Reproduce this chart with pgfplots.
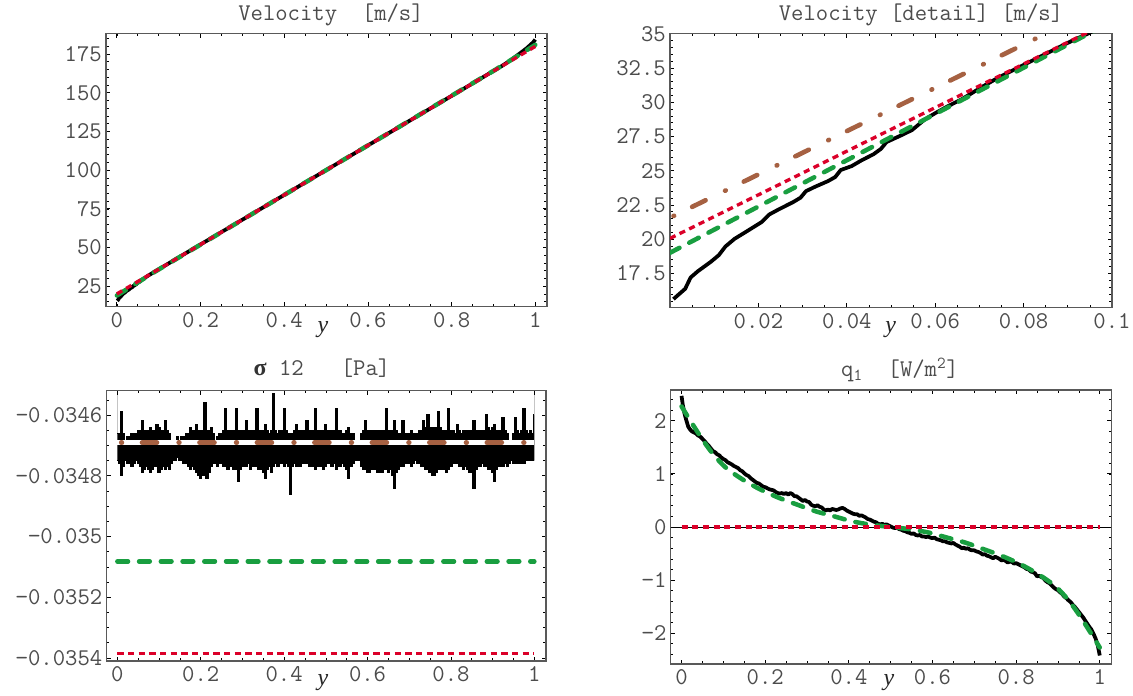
\documentclass[border=0pt]{standalone}
\usepackage{pgfplots}
\usepackage{pgfplotstable}
\pgfplotsset{compat=1.18}
\usepackage{fontspec}
\newfontfamily\serifit{Liberation Serif}
\definecolor{mgreen}{rgb}{0.10,0.62,0.25}
\definecolor{mred}{rgb}{0.86,0.0,0.16}
\definecolor{mbrown}{rgb}{0.65,0.38,0.26}
\definecolor{tickgray}{rgb}{0.30,0.30,0.30}
\definecolor{framegray}{rgb}{0.35,0.35,0.35}
\pgfplotsset{
  mma/.style={
    scale only axis, anchor=south west,
    axis line style={framegray, line width=0.8pt},
    tick align=inside, tick pos=both,
    major tick length=3.2pt, minor tick length=1.9pt,
    tick style={black, line width=0.6pt},
    minor tick style={black, line width=0.5pt},
    tick label style={font=\ttfamily\fontsize{18}{20}\selectfont, text=tickgray},
    xticklabel style={anchor=base, yshift=-15.5pt},
    yticklabel style={anchor=east, inner xsep=3pt},
    clip=true,
  },
  blk/.style={black, line width=2.8pt, line join=round},
  grn/.style={mgreen, line width=3.4pt, line cap=round, dash pattern=on 8pt off 8.3pt},
  rd/.style={mred, line width=2.5pt, dash pattern=on 4.6pt off 3.4pt},
  brn/.style={mbrown, line width=3.5pt, line cap=round, dash pattern=on 11.2pt off 16.3pt on 0.5pt off 15.1pt, dash phase=24.6pt},
}
\pgfplotstableread{
x y
0.00078 15.63
0.00343 16.38
0.00467 17.21
0.00633 17.67
0.00923 18.35
0.01105 18.84
0.01254 19.47
0.01461 20.03
0.01734 20.57
0.02082 21.27
0.02248 21.81
0.02455 22.17
0.02786 22.71
0.02952 23.03
0.03076 23.51
0.03283 23.83
0.03573 24.24
0.03738 24.54
0.03862 25.05
0.04111 25.34
0.04318 25.73
0.04608 26.21
0.04774 26.60
0.04898 27.09
0.05229 27.58
0.05477 27.97
0.05767 28.75
0.06016 29.23
0.06264 29.67
0.06596 30.21
0.07093 31.18
0.07424 31.79
0.08252 33.13
0.09080 34.46
0.09452 35.00
0.1 35.9
0.15 44.0
0.2 52.0
0.3 68.0
0.4 84.0
0.5 100.0
0.6 116.0
0.7 132.0
0.8 148.0
0.85 156.0
0.9 164.1
0.92 167.3
0.94 170.8
0.96 174.8
0.98 178.9
0.99 181.4
0.995 182.6
1.0 184.4
}\velblack
\pgfplotstableread{
x y
0 19.01
0.0947 35.0
0.2 51.9
0.3 67.95
0.4 84.0
0.5 100.0
0.6 116.0
0.7 132.05
0.8 148.1
0.9053 165.0
1.0 180.99
}\velgreen
\pgfplotstableread{
x y
0 20.06
0.0939 35.0
0.5 100.0
0.9061 165.0
1.0 179.94
}\velred
\pgfplotstableread{
x y
0 21.57
0.085 35.0
0.5 100.0
0.915 165.0
1.0 178.43
}\velbrown
\pgfplotstableread{
x a b
0.000 -0.03466 -0.03475
0.005 -0.03466 -0.03476
0.010 -0.03459 -0.03480
0.015 -0.03466 -0.03477
0.020 -0.03469 -0.03475
0.025 -0.03467 -0.03476
0.030 -0.03467 -0.03476
0.035 -0.03466 -0.03477
0.040 -0.03466 -0.03476
0.045 -0.03466 -0.03475
0.050 -0.03465 -0.03476
0.055 -0.03465 -0.03477
0.060 -0.03462 -0.03479
0.065 -0.03465 -0.03478
0.070 -0.03465 -0.03477
0.075 -0.03465 -0.03478
0.080 -0.03464 -0.03479
0.085 -0.03465 -0.03478
0.090 -0.03465 -0.03477
0.095 -0.03463 -0.03477
0.100 -0.03464 -0.03479
0.105 -0.03465 -0.03478
0.110 -0.03465 -0.03477
0.115 -0.03462 -0.03478
0.120 -0.03465 -0.03477
0.125 -0.03466 -0.03478
0.130 -0.03469 -0.03476
0.135 -0.03469 -0.03475
0.140 -0.03469 -0.03475
0.145 -0.03467 -0.03474
0.150 -0.03469 -0.03475
0.155 -0.03467 -0.03475
0.160 -0.03467 -0.03476
0.165 -0.03466 -0.03476
0.170 -0.03466 -0.03477
0.175 -0.03464 -0.03478
0.180 -0.03465 -0.03477
0.185 -0.03465 -0.03478
0.190 -0.03463 -0.03479
0.195 -0.03465 -0.03480
0.200 -0.03465 -0.03481
0.205 -0.03465 -0.03480
0.210 -0.03456 -0.03480
0.215 -0.03465 -0.03481
0.220 -0.03465 -0.03479
0.225 -0.03464 -0.03477
0.230 -0.03466 -0.03476
0.235 -0.03469 -0.03476
0.240 -0.03467 -0.03477
0.245 -0.03466 -0.03476
0.250 -0.03466 -0.03476
0.255 -0.03465 -0.03477
0.260 -0.03458 -0.03477
0.265 -0.03465 -0.03478
0.270 -0.03465 -0.03477
0.275 -0.03465 -0.03477
0.280 -0.03465 -0.03478
0.285 -0.03458 -0.03478
0.290 -0.03465 -0.03482
0.295 -0.03465 -0.03478
0.300 -0.03465 -0.03477
0.305 -0.03465 -0.03477
0.310 -0.03462 -0.03477
0.315 -0.03465 -0.03476
0.320 -0.03465 -0.03478
0.325 -0.03465 -0.03477
0.330 -0.03465 -0.03477
0.335 -0.03458 -0.03477
0.340 -0.03465 -0.03478
0.345 -0.03465 -0.03478
0.350 -0.03465 -0.03479
0.355 -0.03463 -0.03481
0.360 -0.03465 -0.03478
0.365 -0.03466 -0.03477
0.370 -0.03465 -0.03479
0.375 -0.03453 -0.03477
0.380 -0.03465 -0.03476
0.385 -0.03466 -0.03477
0.390 -0.03465 -0.03476
0.395 -0.03465 -0.03476
0.400 -0.03458 -0.03477
0.405 -0.03465 -0.03476
0.410 -0.03466 -0.03477
0.415 -0.03466 -0.03486
0.420 -0.03466 -0.03477
0.425 -0.03465 -0.03476
0.430 -0.03463 -0.03477
0.435 -0.03465 -0.03477
0.440 -0.03465 -0.03477
0.445 -0.03465 -0.03476
0.450 -0.03465 -0.03476
0.455 -0.03462 -0.03476
0.460 -0.03465 -0.03477
0.465 -0.03465 -0.03477
0.470 -0.03465 -0.03477
0.475 -0.03458 -0.03478
0.480 -0.03465 -0.03477
0.485 -0.03465 -0.03477
0.490 -0.03465 -0.03477
0.495 -0.03465 -0.03478
0.500 -0.03463 -0.03477
0.505 -0.03465 -0.03476
0.510 -0.03466 -0.03476
0.515 -0.03465 -0.03477
0.520 -0.03465 -0.03476
0.525 -0.03458 -0.03478
0.530 -0.03465 -0.03477
0.535 -0.03465 -0.03477
0.540 -0.03466 -0.03476
0.545 -0.03466 -0.03477
0.550 -0.03465 -0.03478
0.555 -0.03464 -0.03481
0.560 -0.03466 -0.03477
0.565 -0.03466 -0.03476
0.570 -0.03469 -0.03475
0.575 -0.03469 -0.03475
0.580 -0.03469 -0.03475
0.585 -0.03466 -0.03477
0.590 -0.03465 -0.03478
0.595 -0.03462 -0.03478
0.600 -0.03465 -0.03479
0.605 -0.03465 -0.03479
0.610 -0.03465 -0.03478
0.615 -0.03465 -0.03478
0.620 -0.03465 -0.03478
0.625 -0.03465 -0.03479
0.630 -0.03465 -0.03478
0.635 -0.03465 -0.03479
0.640 -0.03465 -0.03478
0.645 -0.03458 -0.03478
0.650 -0.03465 -0.03479
0.655 -0.03465 -0.03478
0.660 -0.03465 -0.03480
0.665 -0.03462 -0.03484
0.670 -0.03465 -0.03479
0.675 -0.03466 -0.03478
0.680 -0.03466 -0.03477
0.685 -0.03462 -0.03477
0.690 -0.03466 -0.03476
0.695 -0.03466 -0.03476
0.700 -0.03466 -0.03476
0.705 -0.03465 -0.03477
0.710 -0.03466 -0.03476
0.715 -0.03466 -0.03475
0.720 -0.03466 -0.03476
0.725 -0.03465 -0.03476
0.730 -0.03465 -0.03477
0.735 -0.03462 -0.03477
0.740 -0.03464 -0.03478
0.745 -0.03460 -0.03478
0.750 -0.03464 -0.03479
0.755 -0.03464 -0.03480
0.760 -0.03464 -0.03480
0.765 -0.03464 -0.03479
0.770 -0.03459 -0.03478
0.775 -0.03464 -0.03478
0.780 -0.03465 -0.03478
0.785 -0.03465 -0.03478
0.790 -0.03465 -0.03479
0.795 -0.03458 -0.03478
0.800 -0.03465 -0.03477
0.805 -0.03465 -0.03476
0.810 -0.03466 -0.03476
0.815 -0.03463 -0.03476
0.820 -0.03465 -0.03477
0.825 -0.03466 -0.03477
0.830 -0.03465 -0.03478
0.835 -0.03465 -0.03477
0.840 -0.03465 -0.03478
0.845 -0.03465 -0.03479
0.850 -0.03465 -0.03479
0.855 -0.03462 -0.03484
0.860 -0.03465 -0.03478
0.865 -0.03465 -0.03477
0.870 -0.03465 -0.03477
0.875 -0.03465 -0.03476
0.880 -0.03465 -0.03477
0.885 -0.03460 -0.03477
0.890 -0.03464 -0.03478
0.895 -0.03465 -0.03478
0.900 -0.03464 -0.03479
0.905 -0.03463 -0.03482
0.910 -0.03465 -0.03478
0.915 -0.03465 -0.03477
0.920 -0.03465 -0.03477
0.925 -0.03461 -0.03477
0.930 -0.03465 -0.03476
0.935 -0.03466 -0.03477
0.940 -0.03469 -0.03476
0.945 -0.03469 -0.03475
0.950 -0.03466 -0.03476
0.955 -0.03461 -0.03476
0.960 -0.03465 -0.03476
0.965 -0.03466 -0.03476
0.970 -0.03465 -0.03476
0.975 -0.03458 -0.03476
0.980 -0.03465 -0.03475
0.985 -0.03466 -0.03475
0.990 -0.03465 -0.03475
0.995 -0.03466 -0.03475
1.000 -0.03460 -0.03475
}\sigblack
\pgfplotstableread{
x y
0 2.47
0.003 2.30
0.007 2.14
0.011 2.02
0.016 1.89
0.02 1.84
0.025 1.80
0.03 1.78
0.035 1.76
0.04 1.72
0.045 1.70
0.05 1.66
0.055 1.62
0.06 1.57
0.065 1.53
0.07 1.48
0.075 1.43
0.08 1.41
0.085 1.37
0.09 1.35
0.095 1.31
0.1 1.28
0.105 1.26
0.11 1.22
0.115 1.20
0.12 1.18
0.125 1.15
0.13 1.13
0.135 1.11
0.14 1.07
0.145 1.05
0.15 1.01
0.155 0.98
0.16 0.96
0.165 0.92
0.17 0.89
0.175 0.86
0.18 0.83
0.185 0.82
0.19 0.79
0.195 0.76
0.2 0.75
0.205 0.73
0.21 0.71
0.215 0.70
0.22 0.69
0.225 0.66
0.23 0.64
0.235 0.63
0.24 0.64
0.245 0.62
0.25 0.64
0.255 0.61
0.26 0.64
0.265 0.62
0.27 0.58
0.275 0.58
0.28 0.55
0.285 0.52
0.29 0.49
0.295 0.51
0.3 0.48
0.305 0.47
0.31 0.42
0.315 0.40
0.32 0.39
0.325 0.41
0.33 0.38
0.335 0.37
0.34 0.33
0.345 0.31
0.35 0.33
0.355 0.31
0.36 0.34
0.365 0.33
0.37 0.32
0.375 0.33
0.38 0.35
0.385 0.36
0.39 0.34
0.395 0.31
0.4 0.29
0.405 0.27
0.41 0.25
0.415 0.24
0.42 0.24
0.425 0.21
0.43 0.22
0.435 0.20
0.44 0.18
0.445 0.15
0.45 0.14
0.455 0.12
0.46 0.10
0.465 0.09
0.47 0.06
0.475 0.05
0.48 0.06
0.485 0.04
0.49 0.05
0.495 0.03
0.5 0.01
0.505 -0.01
0.51 -0.02
0.515 -0.01
0.52 -0.04
0.525 -0.05
0.53 -0.07
0.535 -0.08
0.54 -0.10
0.545 -0.11
0.55 -0.13
0.555 -0.12
0.56 -0.15
0.565 -0.16
0.57 -0.15
0.575 -0.18
0.58 -0.18
0.585 -0.19
0.59 -0.18
0.595 -0.20
0.6 -0.21
0.605 -0.20
0.61 -0.23
0.615 -0.24
0.62 -0.25
0.625 -0.27
0.63 -0.27
0.635 -0.29
0.64 -0.30
0.645 -0.31
0.65 -0.30
0.655 -0.33
0.66 -0.35
0.665 -0.37
0.67 -0.40
0.675 -0.39
0.68 -0.41
0.685 -0.40
0.69 -0.43
0.695 -0.44
0.7 -0.44
0.705 -0.46
0.71 -0.47
0.715 -0.49
0.72 -0.52
0.725 -0.51
0.73 -0.54
0.735 -0.55
0.74 -0.57
0.745 -0.59
0.75 -0.56
0.755 -0.58
0.76 -0.60
0.765 -0.63
0.77 -0.62
0.775 -0.64
0.78 -0.67
0.785 -0.65
0.79 -0.66
0.795 -0.69
0.8 -0.68
0.805 -0.70
0.81 -0.72
0.815 -0.74
0.82 -0.76
0.825 -0.79
0.83 -0.80
0.835 -0.84
0.84 -0.85
0.845 -0.87
0.85 -0.93
0.855 -0.92
0.86 -0.94
0.865 -0.96
0.87 -1.01
0.875 -1.04
0.88 -1.06
0.885 -1.10
0.89 -1.14
0.895 -1.17
0.9 -1.19
0.905 -1.23
0.91 -1.26
0.915 -1.31
0.92 -1.34
0.925 -1.38
0.93 -1.41
0.935 -1.46
0.94 -1.50
0.945 -1.55
0.95 -1.60
0.955 -1.65
0.96 -1.70
0.965 -1.76
0.97 -1.82
0.975 -1.88
0.98 -1.93
0.985 -2.01
0.99 -2.10
0.995 -2.22
1.0 -2.42
}\qblack
\pgfplotstableread{
x y
0 2.27
0.0244 1.96
0.0506 1.64
0.0768 1.36
0.107 1.11
0.147 0.89
0.19 0.70
0.234 0.545
0.277 0.42
0.321 0.295
0.365 0.20
0.408 0.107
0.452 0.044
0.5 0.0
0.548 -0.044
0.592 -0.107
0.635 -0.20
0.679 -0.295
0.723 -0.42
0.766 -0.545
0.81 -0.70
0.853 -0.89
0.893 -1.11
0.9232 -1.36
0.9494 -1.64
0.9756 -1.96
1.0 -2.27
}\qgreen
\begin{document}
\begin{tikzpicture}
\path[use as bounding box] (0pt,0pt) rectangle (849.75pt,522pt);
% ---------- top left ----------
\begin{axis}[mma, at={(79.5pt,292pt)}, width=330.75pt, height=204.75pt,
  xmin=-0.026, xmax=1.028, ymin=11.8, ymax=188.2,
  xtick={0,0.2,0.4,0.6,0.8,1}, xticklabels={0,0.2,0.4,0.6,0.8,1},
  minor xtick={0,0.05,...,1.0},
  ytick={25,50,75,100,125,150,175}, yticklabels={25,50,75,100,125,150,175},
  minor ytick={15,20,...,185}]
\addplot[blk] table {\velblack};
\addplot[grn] table {\velgreen};
\addplot[rd] table {\velred};
\end{axis}
% ---------- top right ----------
\begin{axis}[mma, at={(502.5pt,291.2pt)}, width=331.5pt, height=205.5pt,
  xmin=0, xmax=0.1, ymin=15, ymax=35,
  xtick={0.02,0.04,0.06,0.08,0.1}, xticklabels={0.02,0.04,0.06,0.08,0.1},
  minor xtick={0.005,0.01,...,0.0951},
  ytick={17.5,20,22.5,25,27.5,30,32.5,35}, yticklabels={17.5,20,22.5,25,27.5,30,32.5,35},
  minor ytick={15,15.5,...,35}]
\addplot[blk] table {\velblack};
\addplot[grn] table {\velgreen};
\addplot[rd] table {\velred};
\addplot[brn] table {\velbrown};
\end{axis}
% ---------- bottom left ----------
\begin{axis}[mma, at={(79.9pt,26.25pt)}, width=329.6pt, height=202.7pt,
  xmin=-0.026, xmax=1.028, ymin=-0.03541, ymax=-0.03452,
  xtick={0,0.2,0.4,0.6,0.8,1}, xticklabels={0,0.2,0.4,0.6,0.8,1},
  minor xtick={0,0.05,...,1.0},
  ytick={-0.0354,-0.0352,-0.035,-0.0348,-0.0346},
  yticklabels={−0.0354,−0.0352,−0.035,−0.0348,−0.0346},
  minor ytick={-0.0354,-0.03535,-0.0353,-0.03525,-0.0352,-0.03515,-0.0351,-0.03505,-0.035,-0.03495,-0.0349,-0.03485,-0.0348,-0.03475,-0.0347,-0.03465,-0.0346,-0.03455},
  scaled y ticks=false, axis on top]
\addplot[fill=black, draw=none, const plot mark mid] table[x=x, y=b] {\sigblack} \closedcycle;
\addplot[fill=white, draw=none, const plot mark mid] table[x=x, y=a] {\sigblack} \closedcycle;
\addplot[black, line width=0.9pt, const plot mark mid] table[x=x, y=b] {\sigblack};
\addplot[black, line width=0.9pt, const plot mark mid] table[x=x, y=a] {\sigblack};
\addplot[white, line width=3.6pt] coordinates {(0,-0.034691) (1,-0.034691)};
\addplot[brn] coordinates {(0,-0.034691) (1,-0.034691)};
\addplot[grn] coordinates {(0,-0.035082) (1,-0.035082)};
\addplot[rd] coordinates {(0,-0.035386) (1,-0.035386)};
\end{axis}
% ---------- bottom right ----------
\begin{axis}[mma, at={(503pt,24pt)}, width=330.6pt, height=205.5pt,
  xmin=-0.026, xmax=1.028, ymin=-2.58, ymax=2.58,
  xtick={0,0.2,0.4,0.6,0.8,1}, xticklabels={0,0.2,0.4,0.6,0.8,1},
  minor xtick={0,0.05,...,1.0},
  ytick={-2,-1,0,1,2}, yticklabels={−2,−1,0,1,2},
  minor ytick={-2.4,-2.2,...,2.41},
  extra y ticks={0}, extra y tick labels={},
  extra y tick style={grid=major, major grid style={black, line width=0.7pt}}]
\addplot[blk, line width=2.8pt] table {\qblack};
\addplot[grn, smooth] table {\qgreen};
\addplot[rd] coordinates {(0,0) (1,0)};
\end{axis}
% ---------- titles and axis labels ----------
\begin{scope}[every node/.style={text=tickgray, font=\ttfamily\fontsize{18}{20}\selectfont, inner sep=0pt, anchor=base}]
\node at (248.25pt,506.5pt) {Velocity~~[m/s]};
\node at (690.75pt,506.5pt) {Velocity [detail] [m/s]};
\node at (241.5pt,240pt) {{\serifit\bfseries\color{black!80}σ}~12~~~[Pa]};
\node at (675pt,239.5pt) {q\textsubscript{1}~~[W/m\textsuperscript{2}]};
\end{scope}
\begin{scope}[every node/.style={text=black!85, font=\serifit\itshape\fontsize{18}{20}\selectfont, inner sep=0pt, anchor=base}]
\node at (242.25pt,272.25pt) {y};
\node at (668.1pt,272.25pt) {y};
\node at (242.25pt,7.5pt) {y};
\node at (666.75pt,7.5pt) {y};
\end{scope}
\end{tikzpicture}
\end{document}
